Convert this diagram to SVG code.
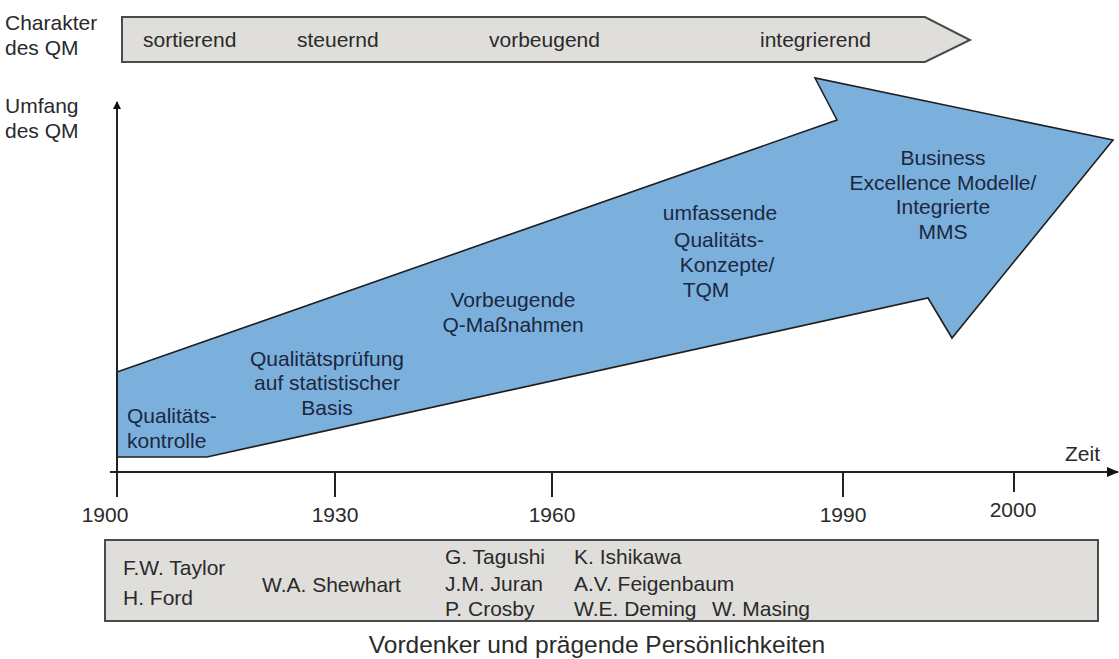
<svg xmlns="http://www.w3.org/2000/svg" width="1119" height="659" viewBox="0 0 1119 659">
<style>
text{font-family:"Liberation Sans",Arial,sans-serif;font-size:21px;fill:#2a2a2a}
.b{fill:#1c2740}
.c{text-anchor:middle}
.ax{stroke:#222;stroke-width:2;fill:none}
.box{fill:#dfdedb;stroke:#4a4a4a;stroke-width:2}
</style>
<defs>
<marker id="ah" viewBox="0 0 12 10" refX="11" refY="5" markerWidth="12" markerHeight="10" markerUnits="userSpaceOnUse" orient="auto">
<path d="M0,0 L12,5 L0,10 Z" fill="#111"/>
</marker>
<marker id="ahs" viewBox="0 0 8 8" refX="7" refY="4" markerWidth="8" markerHeight="8" markerUnits="userSpaceOnUse" orient="auto">
<path d="M0,0 L8,4 L0,8 Z" fill="#111"/>
</marker>
</defs>

<g id="labels-left">
<text x="5" y="30">Charakter</text>
<text x="5" y="55">des QM</text>
<text x="5" y="113">Umfang</text>
<text x="5" y="138">des QM</text>
</g>

<g id="banner">
<polygon class="box" points="122,17 925,17 970,40 925,62 122,62"/>
<text x="143" y="47">sortierend</text>
<text x="297" y="47">steuernd</text>
<text x="489" y="47">vorbeugend</text>
<text x="760" y="47">integrierend</text>
</g>

<g id="big-arrow">
<polygon points="117,372 837,120 815,78 1113,140 952,338 928,298 207,457 117,457" fill="#7bb0dd" stroke="#1f1f1f" stroke-width="1.6" stroke-linejoin="miter"/>
<text class="b" x="127" y="423">Qualitäts-</text>
<text class="b" x="127" y="448">kontrolle</text>
<text class="b c" x="327" y="366">Qualitätsprüfung</text>
<text class="b c" x="327" y="390">auf statistischer</text>
<text class="b c" x="327" y="415">Basis</text>
<text class="b c" x="513" y="307">Vorbeugende</text>
<text class="b c" x="513" y="332">Q-Maßnahmen</text>
<text class="b c" x="720" y="220">umfassende</text>
<text class="b c" x="719" y="247">Qualitäts-</text>
<text class="b c" x="727" y="272">Konzepte/</text>
<text class="b c" x="706" y="297">TQM</text>
<text class="b c" x="943" y="165">Business</text>
<text class="b c" x="943" y="190">Excellence Modelle/</text>
<text class="b c" x="943" y="214">Integrierte</text>
<text class="b c" x="943" y="239">MMS</text>
</g>

<g id="connectors">
<line class="ax" x1="117" y1="497" x2="117" y2="102" marker-end="url(#ahs)"/>
<line class="ax" x1="110" y1="472" x2="1118" y2="472" marker-end="url(#ah)"/>
<line class="ax" x1="335" y1="472" x2="335" y2="497"/>
<line class="ax" x1="552" y1="472" x2="552" y2="497"/>
<line class="ax" x1="843" y1="472" x2="843" y2="497"/>
<line class="ax" x1="1014" y1="472" x2="1014" y2="492"/>
</g>

<g id="axis-labels">
<text x="1065" y="461">Zeit</text>
<text class="c" x="105" y="522">1900</text>
<text class="c" x="335" y="522">1930</text>
<text class="c" x="552" y="522">1960</text>
<text class="c" x="843" y="522">1990</text>
<text class="c" x="1013" y="517">2000</text>
</g>

<g id="persons">
<rect class="box" x="105" y="540" width="993" height="81"/>
<text x="123" y="575">F.W. Taylor</text>
<text x="123" y="605">H. Ford</text>
<text x="262" y="592">W.A. Shewhart</text>
<text x="445" y="564">G. Tagushi</text>
<text x="445" y="591">J.M. Juran</text>
<text x="445" y="616">P. Crosby</text>
<text x="574" y="564">K. Ishikawa</text>
<text x="574" y="591">A.V. Feigenbaum</text>
<text x="574" y="616">W.E. Deming</text>
<text x="712" y="616">W. Masing</text>
</g>

<g id="caption">
<text class="c" x="597" y="653" style="font-size:24.5px">Vordenker und prägende Persönlichkeiten</text>
</g>
</svg>
